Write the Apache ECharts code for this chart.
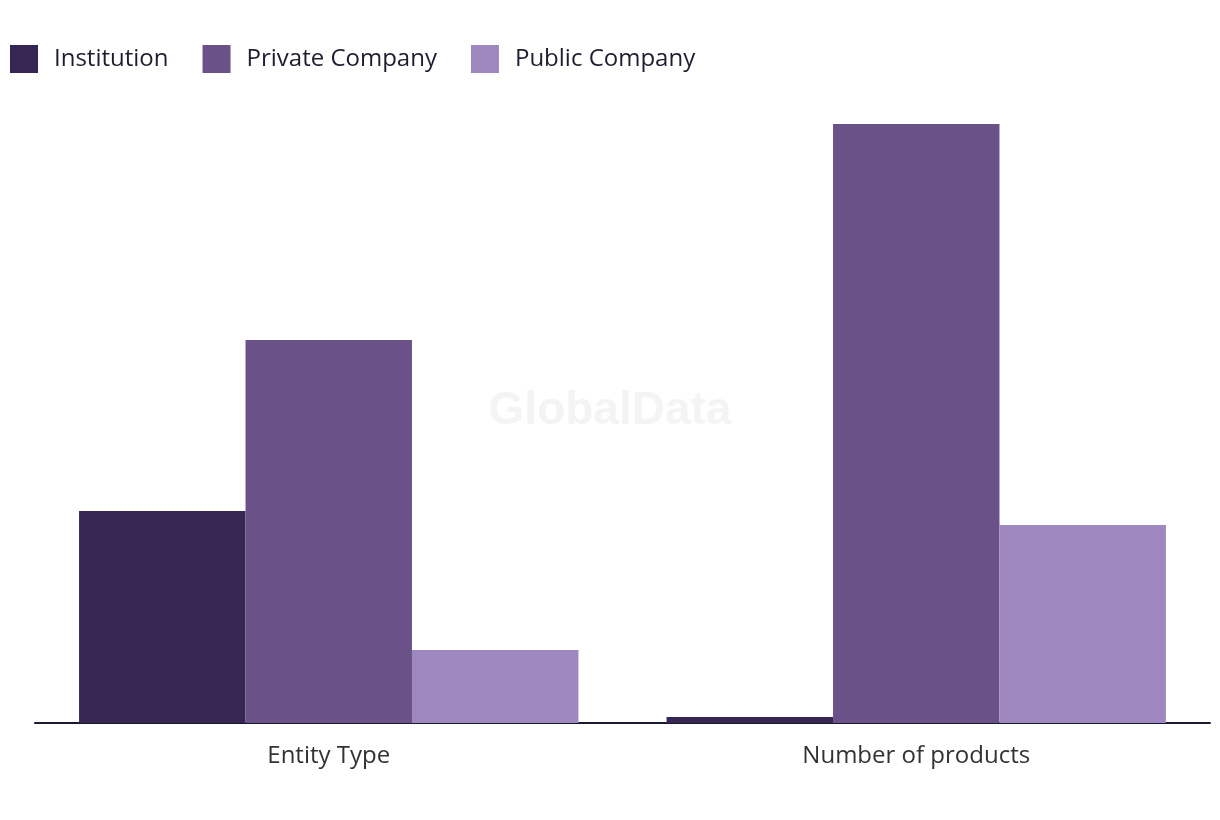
<!DOCTYPE html>
<html>
<head>
<meta charset="utf-8">
<script src="https://cdn.jsdelivr.net/npm/echarts@6/dist/echarts.min.js"></script>
<style>html,body{margin:0;padding:0;background:#fff}#c{width:1220px;height:820px}</style>
</head>
<body>
<div id="c"></div>
<script>
const categories = ['Entity Type', 'Number of products'];
const seriesNames = ['Institution', 'Private Company', 'Public Company'];
const institution = [212, 6];
const privateCompany = [383, 599];
const publicCompany = [73, 198];
const colors = ['#372554', '#6a5289', '#9f88c0'];

const chart = echarts.init(document.getElementById('c'));
const values = [institution, privateCompany, publicCompany];
chart.setOption({
  backgroundColor: '#ffffff',
  animation: false,
  color: colors,
  graphic: [{
    type: 'text', left: 'center', top: 388, z: 0,
    style: { text: 'GlobalData', font: 'bold 46px "Liberation Sans", Arial, sans-serif', fill: '#f4f4f4' }
  }],
  legend: {
    left: 10, top: 45, padding: 0, itemGap: 34, itemWidth: 28, itemHeight: 28,
    icon: 'rect',
    textStyle: { fontFamily: 'Open Sans', fontSize: 24, color: '#1e1e30', padding: [0, 0, 0, 11] },
    data: seriesNames
  },
  grid: { left: 35, right: 10, top: 124, bottom: 97, containLabel: false },
  xAxis: {
    type: 'category', data: categories,
    axisLine: { lineStyle: { color: '#1a1a2e', width: 2 } },
    axisTick: { show: false },
    axisLabel: { fontFamily: 'Open Sans', fontSize: 24, color: '#333333', margin: 21 }
  },
  yAxis: {
    type: 'value', min: 0, max: 599, show: false, splitLine: { show: false }
  },
  series: seriesNames.map((n, i) => ({
    name: n, type: 'bar', data: values[i], barGap: '0%', barCategoryGap: '15%', z: 2
  }))
});
</script>
</body>
</html>
